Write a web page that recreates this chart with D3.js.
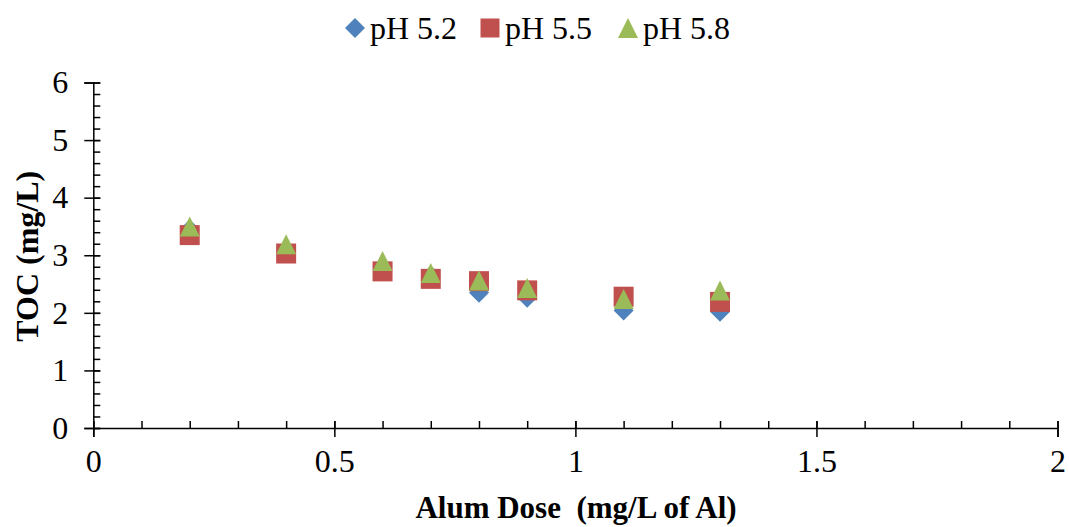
<!DOCTYPE html>
<meta charset="utf-8">
<style>
    body { margin: 0; background: #fff; }
    text { font-family: "Liberation Serif", "Times New Roman", serif; fill: #000; }
    .axis path, .axis line { stroke: #000; stroke-width: 1.5; }
</style>
<script src="https://d3js.org/d3.v7.min.js"></script>
<body>
<script>
    var doses = [0.2, 0.4, 0.6, 0.7, 0.8, 0.9, 1.1, 1.3];
    var ph52 = [3.45, 3.1, 2.8, 2.65, 2.35, 2.26, 2.04, 2.02];
    var ph55 = [3.35, 3.03, 2.72, 2.59, 2.55, 2.39, 2.28, 2.19];
    var ph58 = [3.5, 3.19, 2.9, 2.69, 2.56, 2.43, 2.24, 2.39];
    var seriesNames = ["pH 5.2", "pH 5.5", "pH 5.8"];
    var xTicks = [0, 0.5, 1, 1.5, 2];
    var yTicks = [0, 1, 2, 3, 4, 5, 6];

    var width = 1069;
    var height = 527;

    var colors = ["#4F81BD", "#C0504D", "#9BBB59"];

    // excel-like markers, r = half width
    var diamond = { draw: function (c, r) { c.moveTo(0, -r); c.lineTo(r, 0); c.lineTo(0, r); c.lineTo(-r, 0); c.closePath(); } };
    var square = { draw: function (c, r) { c.rect(-r, -r, 2 * r, 2 * r); } };
    var triangle = { draw: function (c, r) { c.moveTo(0, -r); c.lineTo(r, r); c.lineTo(-r, r); c.closePath(); } };
    var shapes = [diamond, square, triangle];

    var x = d3.scaleLinear().domain([0, 2]).range([93.3, 1057.5]);
    var y = d3.scaleLinear().domain([0, 6]).range([428, 82.5]);

    var svg = d3.select("body").append("svg")
        .attr("width", width)
        .attr("height", height);

    // minor ticks (inside)
    svg.append("g")
        .attr("class", "axis")
        .attr("transform", "translate(0," + y(0) + ")")
        .call(d3.axisTop(x).ticks(20).tickSize(7).tickFormat(""))
        .select(".domain").remove();
    svg.append("g")
        .attr("class", "axis")
        .attr("transform", "translate(" + x(0) + ",0)")
        .call(d3.axisRight(y).ticks(30).tickSize(7).tickFormat(""))
        .select(".domain").remove();

    // major ticks crossing the axis
    var xAxis = svg.append("g")
        .attr("class", "axis")
        .attr("transform", "translate(0," + y(0) + ")")
        .call(d3.axisBottom(x).tickValues(xTicks).tickSizeOuter(0).tickSize(9).tickPadding(12).tickFormat(d3.format("")));
    xAxis.selectAll(".tick line").attr("y1", -7);
    xAxis.selectAll("text").style("font-size", "32px");

    var yAxis = svg.append("g")
        .attr("class", "axis")
        .attr("transform", "translate(" + x(0) + ",0)")
        .call(d3.axisLeft(y).tickValues(yTicks).tickSizeOuter(0).tickSize(9).tickPadding(16).tickFormat(d3.format("")));
    yAxis.selectAll(".tick line").attr("x1", 7);
    yAxis.selectAll("text").style("font-size", "32px");

    // titles
    svg.append("text")
        .attr("x", 576)
        .attr("y", 518)
        .attr("text-anchor", "middle")
        .style("font-size", "31px")
        .style("font-weight", "bold")
        .style("white-space", "pre")
        .text("Alum Dose  (mg/L of Al)");

    svg.append("text")
        .attr("transform", "translate(38," + (y(3) + 1) + ") rotate(-90)")
        .attr("text-anchor", "middle")
        .style("font-size", "32px")
        .style("font-weight", "bold")
        .text("TOC (mg/L)");

    // markers
    var allSeries = [ph52, ph55, ph58];
    allSeries.forEach(function (vals, i) {
        svg.append("g").selectAll("path")
            .data(vals)
            .enter()
            .append("path")
            .attr("d", d3.symbol().type(shapes[i]).size(10))
            .attr("fill", colors[i])
            .attr("transform", function (d, j) {
                return "translate(" + x(doses[j]) + "," + y(d) + ")";
            });
    });

    // legend
    var legendX = [355, 490, 628];
    var legend = svg.append("g");
    seriesNames.forEach(function (name, i) {
        var g = legend.append("g").attr("transform", "translate(" + legendX[i] + ",28)");
        g.append("path")
            .attr("d", d3.symbol().type(shapes[i]).size(i === 1 ? 9.5 : 10))
            .attr("fill", colors[i]);
        g.append("text")
            .attr("x", 15)
            .attr("y", 11)
            .style("font-size", "32px")
            .text(name);
    });
</script>
</body>
